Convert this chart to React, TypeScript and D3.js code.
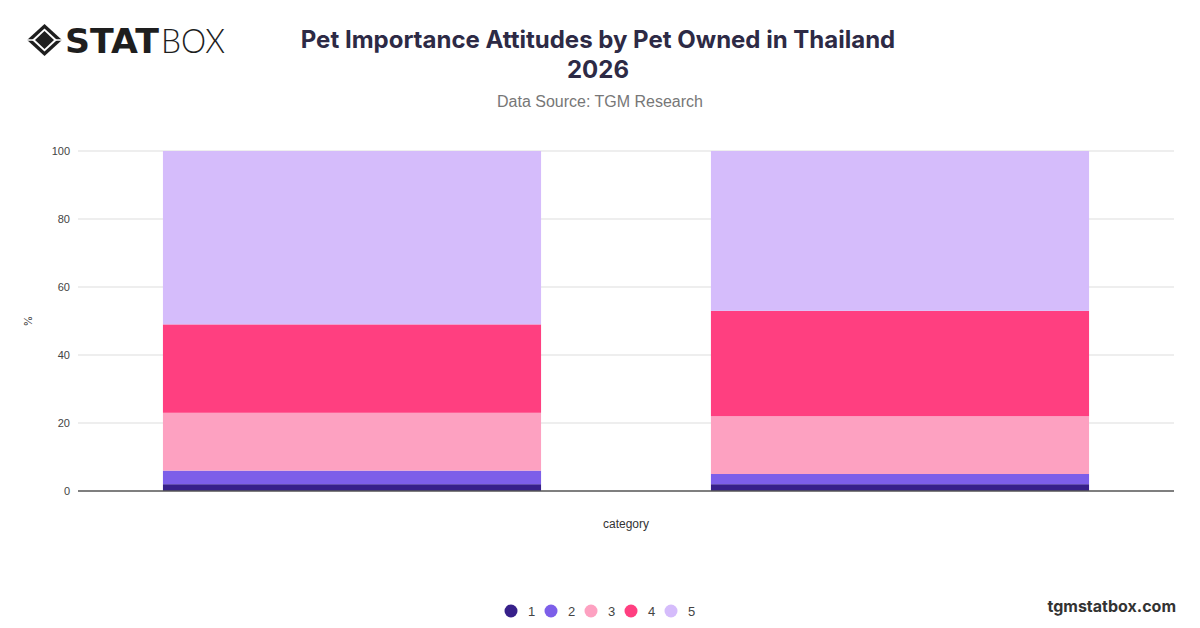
import React from "react";
import * as d3 from "d3";

const categories = ["Cat", "Dog"];
const seriesKeys = ["1", "2", "3", "4", "5"];
const series1 = [2, 2];
const series2 = [4, 3];
const series3 = [17, 17];
const series4 = [26, 31];
const series5 = [51, 47];
const seriesColors = ["#37208a", "#7d5fe9", "#fda1c1", "#ff3f80", "#d5bcfb"];
const yTicks = [0, 20, 40, 60, 80, 100];

const W = 1200;
const H = 628;
const M = { left: 78, right: 1174, top: 151, bottom: 491 };

export default function App() {
  const allSeries = [series1, series2, series3, series4, series5];
  const rows = categories.map((c, i) => {
    const r: any = { category: c };
    seriesKeys.forEach((k, j) => (r[k] = allSeries[j][i]));
    return r;
  });
  const stacked = d3.stack().keys(seriesKeys)(rows);
  const x = d3
    .scaleBand()
    .domain(categories)
    .range([M.left, M.right])
    .paddingInner(0.31)
    .paddingOuter(0.155);
  const y = d3.scaleLinear().domain([0, 100]).range([M.bottom, M.top]);
  const font = "Inter, 'Helvetica Neue', Arial, sans-serif";
  const legendX = d3.scalePoint().domain(seriesKeys).range([511, 671]);

  return (
    <svg
      width={W}
      height={H}
      style={{ position: "absolute", left: 0, top: 0, background: "#fff" }}
      fontFamily={font}
    >
      {/* Logo */}
      <g>
        <path d="M44.5,24 L62,40 L44.5,56 L27,40 Z" fill="#1e1e1e" />
        <path d="M44.5,28.5 L57,40 L44.5,51.5 L32,40 Z" fill="#fff" />
        <path d="M44.5,31 L54,40 L44.5,49 L35,40 Z" fill="#1e1e1e" />
        <line x1={27} y1={40} x2={35} y2={40} stroke="#fff" strokeWidth={1.5} />
        <line x1={54} y1={40} x2={62} y2={40} stroke="#fff" strokeWidth={1.5} />
        <text x={65} y={53} fontFamily="'DejaVu Sans', sans-serif" fontWeight={900} fontSize={33} fill="#1e1e1e" textLength={94} lengthAdjust="spacingAndGlyphs">
          STAT
        </text>
        <text x={161} y={53} fontFamily="Lato, 'DejaVu Sans', sans-serif" fontWeight={300} fontSize={34} fill="#1e1e1e" textLength={64} lengthAdjust="spacingAndGlyphs">
          BOX
        </text>
      </g>

      {/* Title */}
      <text x={598} y={48} textAnchor="middle" fontSize={24} fontWeight={700} fill="#2d2a45">
        Pet Importance Attitudes by Pet Owned in Thailand
      </text>
      <text x={598} y={78} textAnchor="middle" fontSize={24} fontWeight={700} fill="#2d2a45">
        2026
      </text>
      <text x={600} y={107} textAnchor="middle" fontSize={16} fill="#777" fontFamily="'Liberation Sans', Arial, sans-serif">
        Data Source: TGM Research
      </text>

      {/* Grid */}
      {yTicks.map((t) => (
        <g key={t}>
          {t !== 0 && (
            <line x1={M.left} x2={M.right} y1={y(t)} y2={y(t)} stroke="#dddddd" strokeWidth={1} />
          )}
          <text x={70} y={y(t) + 4} textAnchor="end" fontSize={11} fill="#444" fontFamily="'Liberation Sans', Arial, sans-serif">
            {t}
          </text>
        </g>
      ))}

      {/* Bars */}
      {stacked.map((s, j) => (
        <g key={s.key} fill={seriesColors[j]}>
          {s.map((d, i) => (
            <rect
              key={i}
              x={x(categories[i])}
              width={x.bandwidth()}
              y={y(d[1])}
              height={y(d[0]) - y(d[1])}
            />
          ))}
        </g>
      ))}

      {/* Axis baseline */}
      <line x1={M.left} x2={M.right} y1={y(0)} y2={y(0)} stroke="#555" strokeWidth={1.5} />

      {/* Axis titles */}
      <text
        transform={`translate(32,${(M.top + M.bottom) / 2}) rotate(-90)`}
        textAnchor="middle"
        fontSize={11}
        fill="#444"
      >
        %
      </text>
      <text x={(M.left + M.right) / 2} y={528} textAnchor="middle" fontSize={12} fill="#333" fontFamily="'Liberation Sans', Arial, sans-serif">
        category
      </text>

      {/* Legend */}
      {seriesKeys.map((k, j) => (
        <g key={k}>
          <circle cx={legendX(k)} cy={611} r={6.5} fill={seriesColors[j]} />
          <text x={(legendX(k) as number) + 17} y={615.5} fontSize={13} fill="#444" fontFamily="'Liberation Sans', Arial, sans-serif">
            {k}
          </text>
        </g>
      ))}

      <text x={1176} y={612} textAnchor="end" fontSize={16} fontWeight={700} fill="#333">
        tgmstatbox.com
      </text>
    </svg>
  );
}
